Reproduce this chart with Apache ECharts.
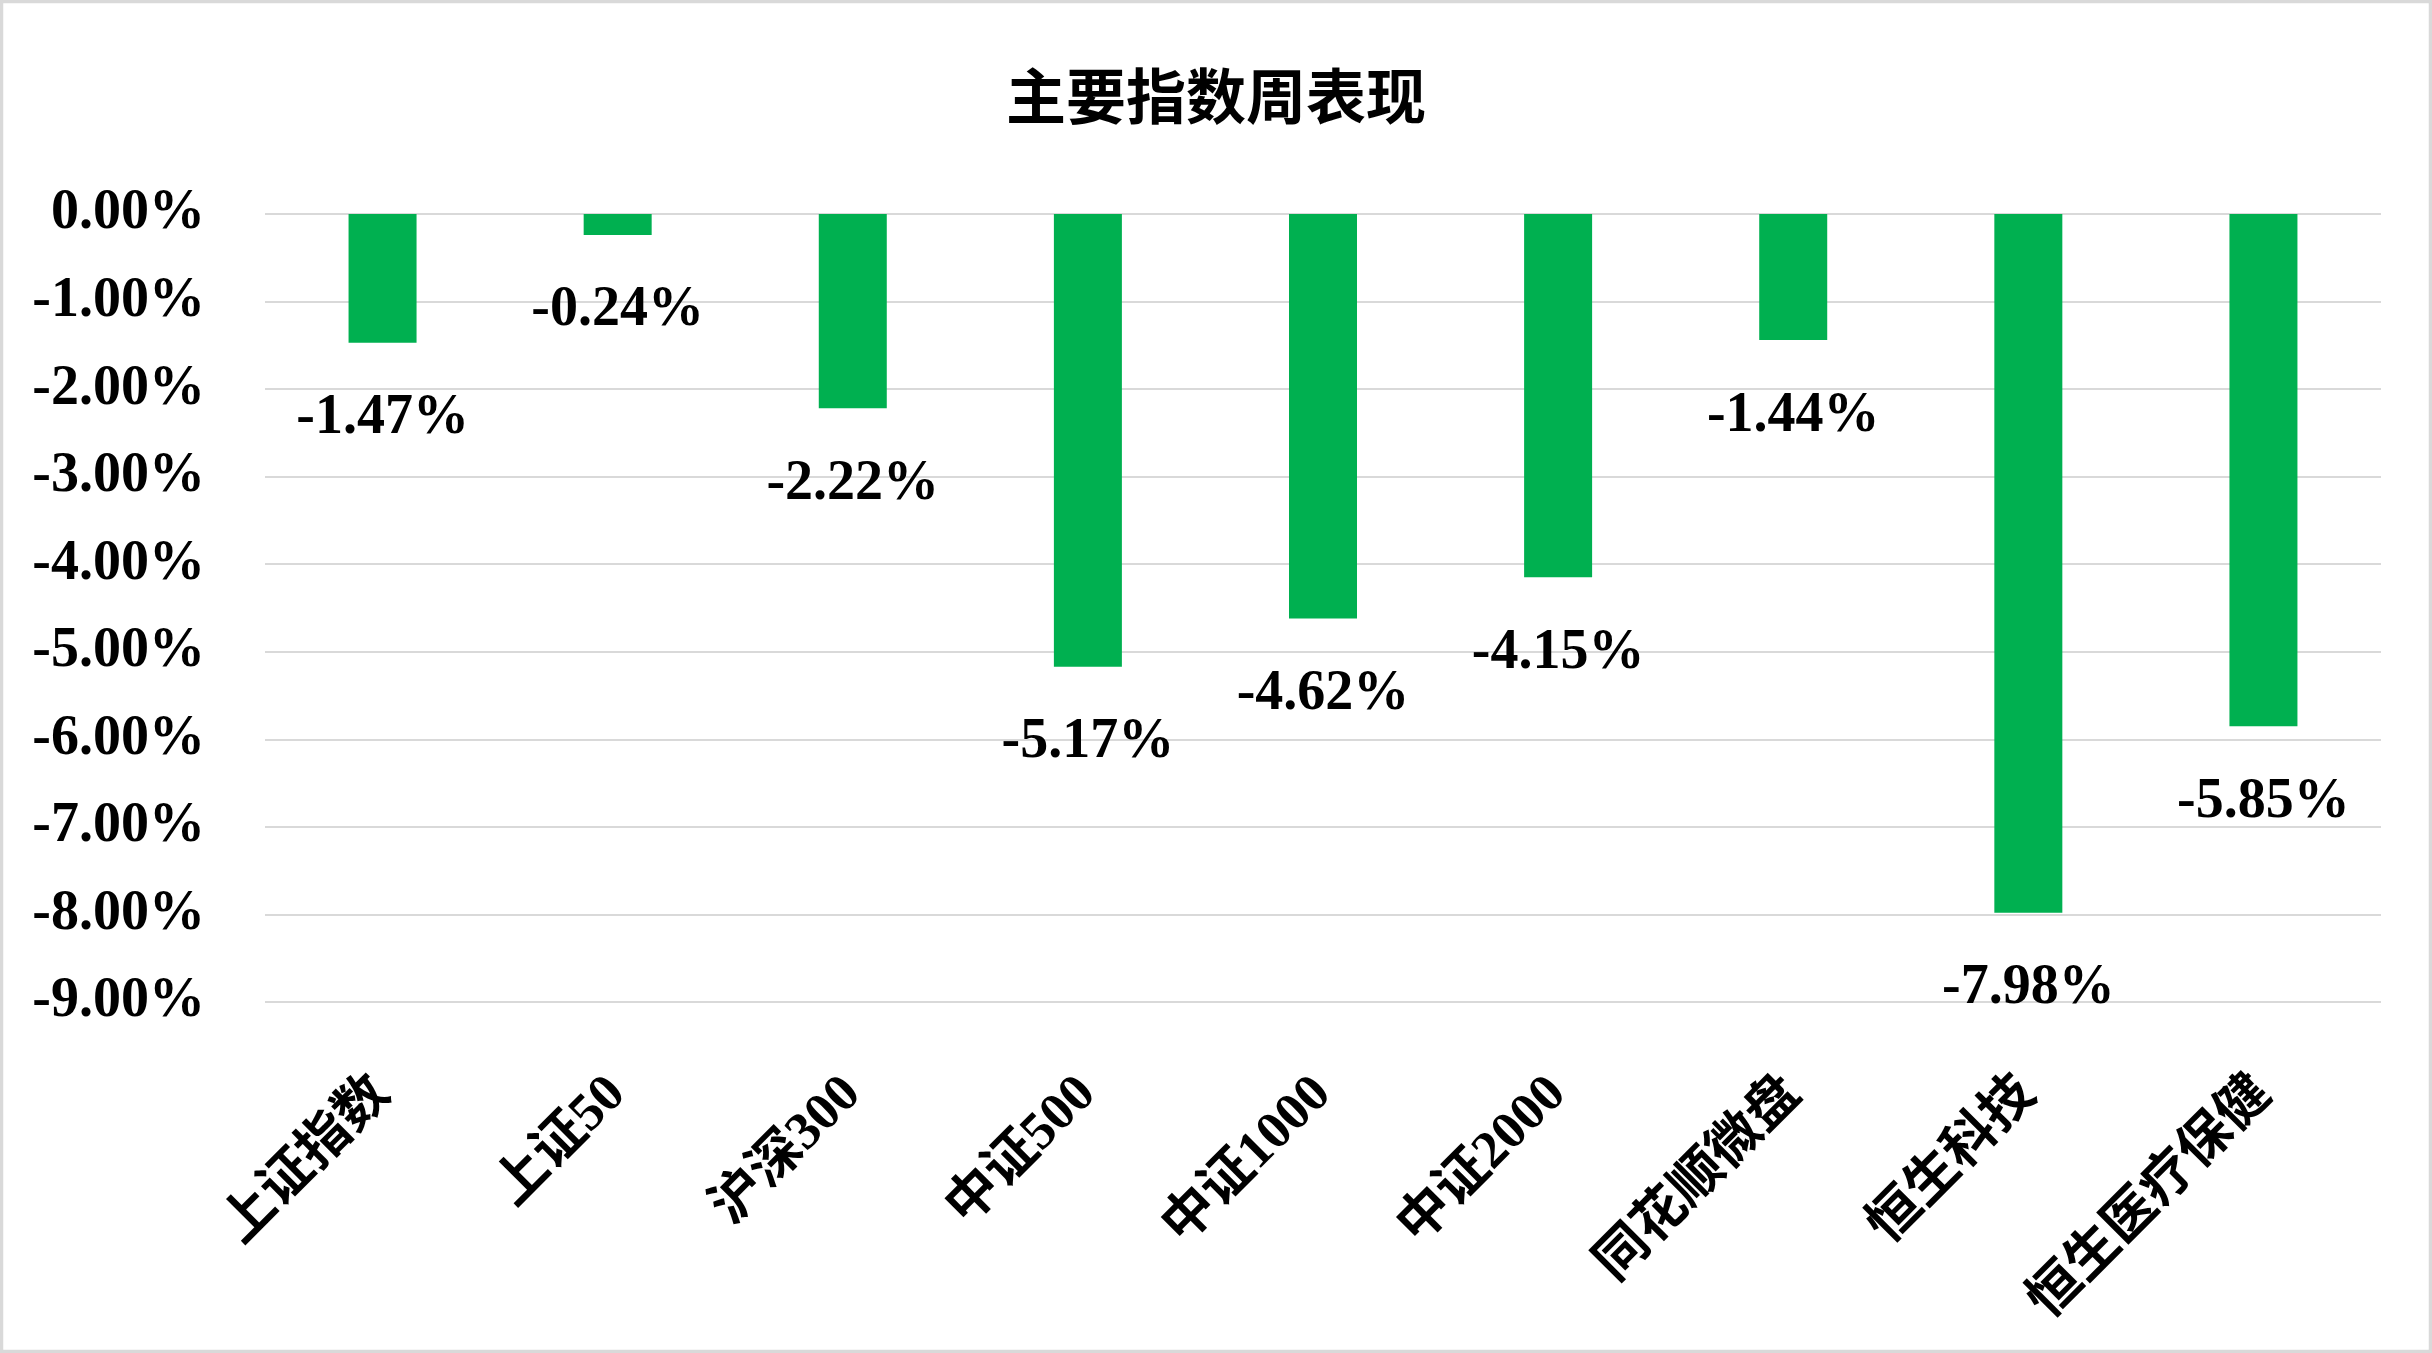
<!DOCTYPE html>
<html>
<head>
<meta charset="utf-8">
<script src="https://cdn.jsdelivr.net/npm/echarts@6/dist/echarts.min.js"></script>
<style>
html,body{margin:0;padding:0;background:#fff;}
#chart{width:2432px;height:1353px;}
</style>
</head>
<body>
<div id="chart"></div>
<script>
const titleText = '主要指数周表现';
const categories = ['上证指数','上证50','沪深300','中证500','中证1000','中证2000','同花顺微盘','恒生科技','恒生医疗保健'];
const weeklyChange = [-1.47, -0.24, -2.22, -5.17, -4.62, -4.15, -1.44, -7.98, -5.85];
const yMin = -9, yMax = 0, yStep = 1;

const serif = '"Liberation Serif","Times New Roman","Noto Sans CJK SC",serif';
const chart = echarts.init(document.getElementById('chart'));
chart.setOption({
  backgroundColor: '#ffffff',
  animation: false,
  title: {
    text: titleText,
    left: 'center',
    top: 61,
    textStyle: {fontFamily: '"Noto Sans CJK SC",serif', fontWeight: 'bold', fontSize: 60, color: '#000'}
  },
  graphic: [{
    type: 'rect',
    shape: {x: 1.5, y: 1.5, width: 2429, height: 1350},
    style: {fill: 'none', stroke: '#d9d9d9', lineWidth: 3.5},
    silent: true
  }],
  grid: {left: 265, right: 51, top: 214, bottom: 351, containLabel: false},
  xAxis: {
    type: 'category',
    data: categories,
    axisLine: {show: false, onZero: false},
    axisTick: {show: false},
    axisLabel: {
      rotate: 45,
      interval: 0,
      margin: 84,
      fontFamily: serif,
      fontWeight: 'bold',
      fontSize: 53,
      color: '#000'
    }
  },
  yAxis: {
    type: 'value',
    min: yMin,
    max: yMax,
    interval: yStep,
    axisLine: {show: false},
    axisTick: {show: false},
    splitLine: {lineStyle: {color: '#d9d9d9', width: 2}},
    axisLabel: {
      margin: 60,
      padding: [9, 0, 0, 0],
      fontFamily: serif,
      fontWeight: 'bold',
      fontSize: 56,
      color: '#000',
      formatter: v => v.toFixed(2) + '%'
    }
  },
  series: [{
    type: 'bar',
    data: weeklyChange,
    barWidth: 68,
    itemStyle: {color: '#00B050'},
    label: {
      show: true,
      position: 'bottom',
      distance: 48,
      lineHeight: 56,
      fontFamily: serif,
      fontWeight: 'bold',
      fontSize: 56,
      color: '#000',
      formatter: p => p.value.toFixed(2) + '%'
    }
  }]
});
</script>
</body>
</html>
